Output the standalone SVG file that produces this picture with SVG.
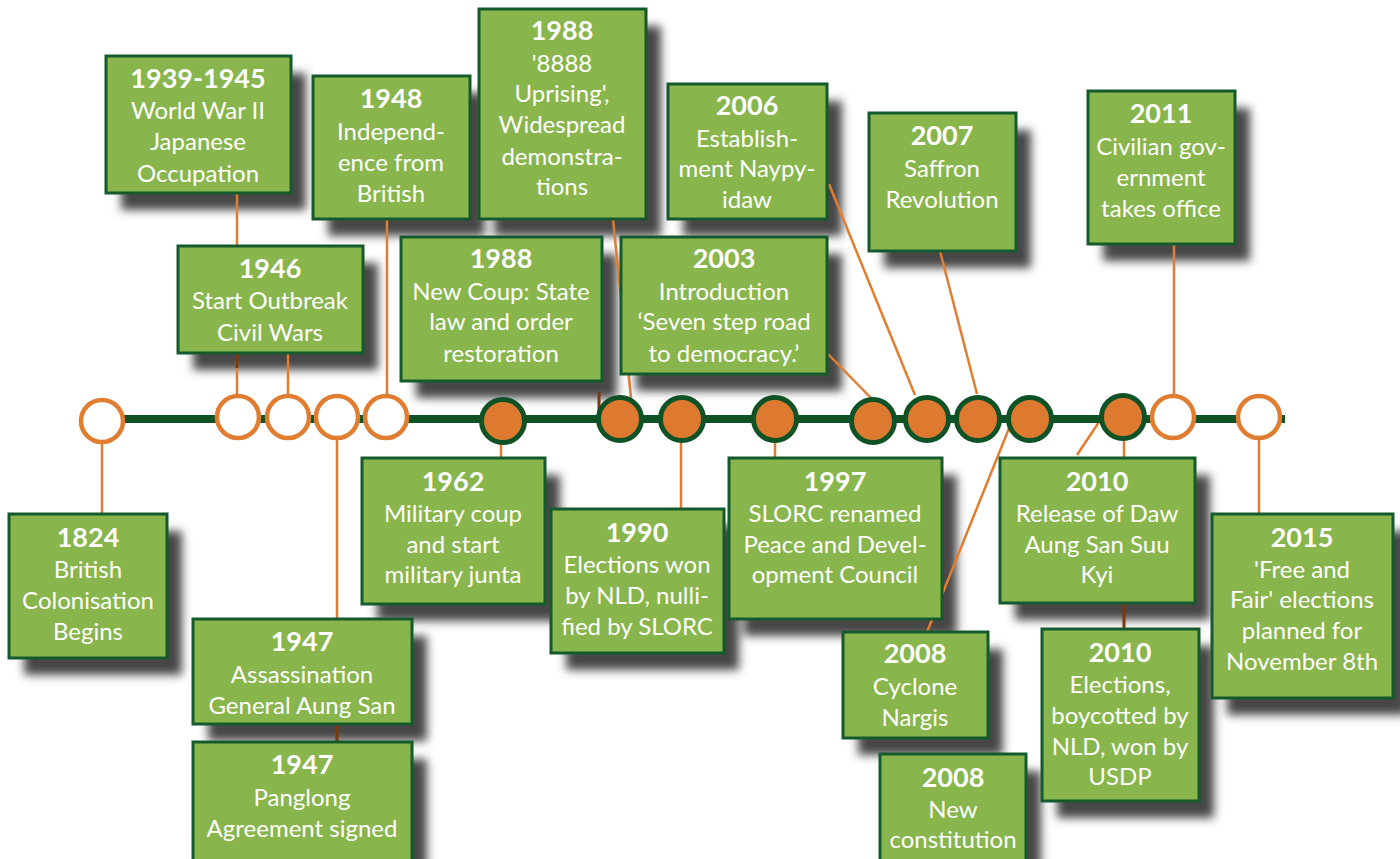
<svg xmlns="http://www.w3.org/2000/svg" width="1400" height="859" viewBox="0 0 1400 859">
<defs>
<filter id="blur" x="-20%" y="-20%" width="140%" height="140%"><feGaussianBlur stdDeviation="5"/></filter>
<style>
.sh{fill:#474747}
.box{fill:#88b54c;stroke:#155a2c;stroke-width:3}
.yr{font-family:Lato,"Open Sans",sans-serif;font-weight:bold;font-size:27px;fill:#fff;text-anchor:middle}
.tx{font-family:Lato,"Open Sans",sans-serif;font-size:24px;fill:#fff;text-anchor:middle}
.con{stroke:#e07d31;stroke-width:2.5;fill:none}
.dark{stroke:#7a3a10;stroke-width:3;fill:none}
.open{fill:#fff;stroke:#e07d31;stroke-width:4.5}
.full{fill:#dd7a2f;stroke:#0e5226;stroke-width:5}
</style>
</defs>
<rect width="1400" height="859" fill="#fff"/>
<g id="shadows" filter="url(#blur)" transform="translate(15,17)">
<rect class="sh" x="106" y="56" width="185" height="137"/>
<rect class="sh" x="313" y="76" width="157" height="143"/>
<rect class="sh" x="178" y="246" width="185" height="107"/>
<rect class="sh" x="479" y="9" width="167" height="210"/>
<rect class="sh" x="668" y="84" width="159" height="135"/>
<rect class="sh" x="869" y="113" width="147" height="138"/>
<rect class="sh" x="1088" y="91" width="147" height="153"/>
<rect class="sh" x="401" y="237" width="201" height="144"/>
<rect class="sh" x="621" y="237" width="206" height="137"/>
<rect class="sh" x="9" y="514" width="158" height="144"/>
<rect class="sh" x="362" y="458" width="183" height="146"/>
<rect class="sh" x="193" y="619" width="219" height="105"/>
<rect class="sh" x="193" y="742" width="219" height="130"/>
<rect class="sh" x="551" y="509" width="173" height="144"/>
<rect class="sh" x="729" y="458" width="213" height="161"/>
<rect class="sh" x="843" y="632" width="145" height="106"/>
<rect class="sh" x="880" y="754" width="146" height="120"/>
<rect class="sh" x="1000" y="458" width="195" height="145"/>
<rect class="sh" x="1042" y="629" width="157" height="172"/>
<rect class="sh" x="1212" y="514" width="181" height="184"/>
</g>
<g id="connectors">
<line class="con" x1="102" y1="443" x2="102" y2="514"/>
<line class="con" x1="237" y1="193" x2="237" y2="396"/>
<line class="dark" x1="237" y1="353" x2="237" y2="368"/>
<line class="con" x1="288" y1="353" x2="288" y2="396"/>
<line class="con" x1="387" y1="219" x2="387" y2="396"/>
<line class="con" x1="337" y1="440" x2="337" y2="619"/>
<line class="dark" x1="337" y1="724" x2="337" y2="742"/>
<line class="con" x1="501" y1="443" x2="501" y2="458"/>
<line class="con" x1="613" y1="219" x2="631" y2="398"/>
<line class="dark" x1="599" y1="392" x2="599" y2="412"/>
<line class="con" x1="681" y1="441" x2="681" y2="509"/>
<line class="con" x1="775" y1="441" x2="775" y2="460"/>
<line class="con" x1="828" y1="354" x2="872" y2="399"/>
<line class="con" x1="829" y1="184" x2="915" y2="395"/>
<line class="con" x1="940" y1="251" x2="977" y2="394"/>
<line class="con" x1="927" y1="632" x2="1014" y2="416"/>
<line class="con" x1="1124" y1="441" x2="1124" y2="458"/>
<line class="con" x1="1099" y1="422" x2="1077" y2="455"/>
<line class="dark" x1="1124" y1="603" x2="1124" y2="629"/>
<line class="con" x1="1174" y1="244" x2="1174" y2="396"/>
<line class="con" x1="1259" y1="440" x2="1259" y2="514"/>
</g>
<g id="timeline">
<line x1="80" y1="419" x2="1285" y2="419" stroke="#0e5226" stroke-width="8"/>
<circle class="open" cx="102" cy="421" r="21"/>
<circle class="open" cx="238" cy="417" r="21"/>
<circle class="open" cx="288" cy="417" r="21"/>
<circle class="open" cx="337" cy="417" r="21"/>
<circle class="open" cx="386" cy="417" r="21"/>
<circle class="full" cx="503" cy="421" r="21.5"/>
<circle class="full" cx="620" cy="419" r="21.5"/>
<circle class="full" cx="682" cy="419" r="21.5"/>
<circle class="full" cx="775" cy="419" r="21.5"/>
<circle class="full" cx="873" cy="421" r="21.5"/>
<circle class="full" cx="927" cy="419" r="21.5"/>
<circle class="full" cx="978" cy="419" r="21.5"/>
<circle class="full" cx="1030" cy="419" r="21.5"/>
<circle class="full" cx="1123" cy="417" r="21.5"/>
<circle class="open" cx="1173" cy="417" r="21"/>
<circle class="open" cx="1259" cy="417" r="21"/>
</g>
<g id="n1939">
<rect class="box" x="106" y="56" width="185" height="137"/>
<text class="yr" x="198" y="88">1939-1945</text>
<text class="tx" x="198" y="119">World War II</text>
<text class="tx" x="198" y="150">Japanese</text>
<text class="tx" x="198" y="182">Occupation</text>
</g>
<g id="n1948">
<rect class="box" x="313" y="76" width="157" height="143"/>
<text class="yr" x="391" y="108">1948</text>
<text class="tx" x="391" y="140">Independ-</text>
<text class="tx" x="391" y="171">ence from</text>
<text class="tx" x="391" y="202">British</text>
</g>
<g id="n1946">
<rect class="box" x="178" y="246" width="185" height="107"/>
<text class="yr" x="270" y="278">1946</text>
<text class="tx" x="270" y="309">Start Outbreak</text>
<text class="tx" x="270" y="341">Civil Wars</text>
</g>
<g id="n1988u">
<rect class="box" x="479" y="9" width="167" height="210"/>
<text class="yr" x="562" y="40">1988</text>
<text class="tx" x="562" y="72">'8888</text>
<text class="tx" x="562" y="102">Uprising',</text>
<text class="tx" x="562" y="133">Widespread</text>
<text class="tx" x="562" y="165">demonstra-</text>
<text class="tx" x="562" y="195">tions</text>
</g>
<g id="n2006">
<rect class="box" x="668" y="84" width="159" height="135"/>
<text class="yr" x="747" y="115">2006</text>
<text class="tx" x="747" y="147">Establish-</text>
<text class="tx" x="747" y="177">ment Naypy-</text>
<text class="tx" x="747" y="208">idaw</text>
</g>
<g id="n2007">
<rect class="box" x="869" y="113" width="147" height="138"/>
<text class="yr" x="942" y="145">2007</text>
<text class="tx" x="942" y="177">Saffron</text>
<text class="tx" x="942" y="208">Revolution</text>
</g>
<g id="n2011">
<rect class="box" x="1088" y="91" width="147" height="153"/>
<text class="yr" x="1161" y="123">2011</text>
<text class="tx" x="1161" y="155">Civilian gov-</text>
<text class="tx" x="1161" y="186">ernment</text>
<text class="tx" x="1161" y="217">takes office</text>
</g>
<g id="n1988c">
<rect class="box" x="401" y="237" width="201" height="144"/>
<text class="yr" x="501" y="268">1988</text>
<text class="tx" x="501" y="300">New Coup: State</text>
<text class="tx" x="501" y="330">law and order</text>
<text class="tx" x="501" y="362">restoration</text>
</g>
<g id="n2003">
<rect class="box" x="621" y="237" width="206" height="137"/>
<text class="yr" x="724" y="268">2003</text>
<text class="tx" x="724" y="300">Introduction</text>
<text class="tx" x="724" y="330">‘Seven step road</text>
<text class="tx" x="724" y="362">to democracy.’</text>
</g>
<g id="n1824">
<rect class="box" x="9" y="514" width="158" height="144"/>
<text class="yr" x="88" y="547">1824</text>
<text class="tx" x="88" y="578">British</text>
<text class="tx" x="88" y="609">Colonisation</text>
<text class="tx" x="88" y="640">Begins</text>
</g>
<g id="n1962">
<rect class="box" x="362" y="458" width="183" height="146"/>
<text class="yr" x="453" y="491">1962</text>
<text class="tx" x="453" y="522">Military coup</text>
<text class="tx" x="453" y="553">and start</text>
<text class="tx" x="453" y="583">military junta</text>
</g>
<g id="n1947a">
<rect class="box" x="193" y="619" width="219" height="105"/>
<text class="yr" x="302" y="651">1947</text>
<text class="tx" x="302" y="683">Assassination</text>
<text class="tx" x="302" y="714">General Aung San</text>
</g>
<g id="n1947p">
<rect class="box" x="193" y="742" width="219" height="130"/>
<text class="yr" x="302" y="774">1947</text>
<text class="tx" x="302" y="806">Panglong</text>
<text class="tx" x="302" y="837">Agreement signed</text>
</g>
<g id="n1990">
<rect class="box" x="551" y="509" width="173" height="144"/>
<text class="yr" x="637" y="542">1990</text>
<text class="tx" x="637" y="573">Elections won</text>
<text class="tx" x="637" y="604">by NLD, nulli-</text>
<text class="tx" x="637" y="635">fied by SLORC</text>
</g>
<g id="n1997">
<rect class="box" x="729" y="458" width="213" height="161"/>
<text class="yr" x="835" y="491">1997</text>
<text class="tx" x="835" y="522">SLORC renamed</text>
<text class="tx" x="835" y="553">Peace and Devel-</text>
<text class="tx" x="835" y="583">opment Council</text>
</g>
<g id="n2008c">
<rect class="box" x="843" y="632" width="145" height="106"/>
<text class="yr" x="915" y="663">2008</text>
<text class="tx" x="915" y="695">Cyclone</text>
<text class="tx" x="915" y="726">Nargis</text>
</g>
<g id="n2008n">
<rect class="box" x="880" y="754" width="146" height="120"/>
<text class="yr" x="953" y="787">2008</text>
<text class="tx" x="953" y="818">New</text>
<text class="tx" x="953" y="848">constitution</text>
</g>
<g id="n2010r">
<rect class="box" x="1000" y="458" width="195" height="145"/>
<text class="yr" x="1097" y="491">2010</text>
<text class="tx" x="1097" y="522">Release of Daw</text>
<text class="tx" x="1097" y="553">Aung San Suu</text>
<text class="tx" x="1097" y="583">Kyi</text>
</g>
<g id="n2010e">
<rect class="box" x="1042" y="629" width="157" height="172"/>
<text class="yr" x="1120" y="662">2010</text>
<text class="tx" x="1120" y="693">Elections,</text>
<text class="tx" x="1120" y="724">boycotted by</text>
<text class="tx" x="1120" y="755">NLD, won by</text>
<text class="tx" x="1120" y="785">USDP</text>
</g>
<g id="n2015">
<rect class="box" x="1212" y="514" width="181" height="184"/>
<text class="yr" x="1302" y="547">2015</text>
<text class="tx" x="1302" y="578">'Free and</text>
<text class="tx" x="1302" y="608">Fair' elections</text>
<text class="tx" x="1302" y="639">planned for</text>
<text class="tx" x="1302" y="670">November 8th</text>
</g>
</svg>
